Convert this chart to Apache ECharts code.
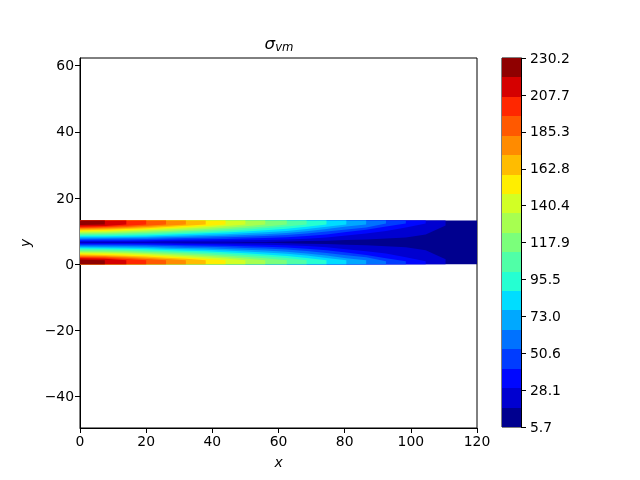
<!DOCTYPE html>
<html>
<head>
<meta charset="utf-8">
<style>
html, body { margin: 0; padding: 0; background: #fff; }
#chart { width: 640px; height: 480px; }
</style>
<script src="https://cdn.jsdelivr.net/npm/echarts@6/dist/echarts.min.js"></script>
</head>
<body>
<div id="chart"></div>
<script>
// x stations along the band where the contours were read
var xStations = [0, 7.5, 14, 20, 26, 32, 38, 44, 50, 56, 62.5, 68.5, 74.5, 80.5, 86.5, 92.5, 98.5, 104.5, 110.5];
var bandLength = 120;
var bandTop = 13.2;

// y of the contour where each level starts, upper half of the band (lower half is its mirror)
var contour01 = [6.6, 6.6, 6.6, 6.6, 6.6, 6.64, 6.63, 6.66, 6.69, 6.73, 6.85, 7.0, 7.1, 7.3, 7.46, 7.76, 8.06, 9.0, 11.7];
var contour02 = [6.85, 6.86, 6.85, 6.85, 6.97, 7.05, 7.07, 7.14, 7.22, 7.32, 7.49, 7.7, 8.05, 8.7, 9.3, 10.0, 11.1, 12.3];
var contour03 = [7.16, 7.18, 7.19, 7.22, 7.36, 7.47, 7.52, 7.63, 7.75, 7.9, 8.14, 8.5, 9.0, 9.7, 10.4, 11.4, 12.3];
var contour04 = [7.47, 7.5, 7.54, 7.59, 7.74, 7.88, 7.97, 8.11, 8.28, 8.49, 8.78, 9.25, 9.85, 10.5, 11.1, 12.3];
var contour05 = [7.78, 7.82, 7.88, 7.95, 8.13, 8.29, 8.42, 8.6, 8.81, 9.07, 9.42, 9.95, 10.6, 11.4, 12.0];
var contour06 = [8.1, 8.14, 8.22, 8.32, 8.52, 8.7, 8.86, 9.08, 9.34, 9.65, 10.06, 10.6, 11.3, 12.0];
var contour07 = [8.41, 8.46, 8.56, 8.69, 8.9, 9.11, 9.31, 9.57, 9.87, 10.24, 10.7, 11.3, 12.0];
var contour08 = [8.72, 8.78, 8.91, 9.05, 9.29, 9.52, 9.76, 10.05, 10.4, 10.82, 11.35, 12.0];
var contour09 = [9.03, 9.1, 9.25, 9.42, 9.67, 9.93, 10.2, 10.54, 10.93, 11.41, 11.99];
var contour10 = [9.34, 9.42, 9.59, 9.79, 10.06, 10.35, 10.65, 11.02, 11.46, 11.99];
var contour11 = [9.65, 9.74, 9.93, 10.15, 10.45, 10.76, 11.1, 11.5, 11.99];
var contour12 = [9.97, 10.06, 10.28, 10.52, 10.83, 11.17, 11.54, 11.99];
var contour13 = [10.28, 10.39, 10.62, 10.89, 11.22, 11.58, 11.99];
var contour14 = [10.59, 10.71, 10.96, 11.25, 11.6, 11.99];
var contour15 = [10.85, 10.98, 11.25, 11.6, 11.99];
var contour16 = [11.08, 11.25, 11.6, 11.99];
var contour17 = [11.4, 11.55, 11.99];
var contour18 = [11.83, 11.99];

// colorbar
var levelMin = 5.7;
var levelMax = 230.2;
var levelColors = ['#00008f', '#0000d0', '#0007ff', '#003cff', '#0072ff', '#00a8ff', '#00ddff', '#25ffd2', '#50ffa7', '#7bff7b',
	'#a7ff50', '#d2ff25', '#ffee00', '#ffbc00', '#ff8b00', '#ff5900', '#ff2700', '#d50000', '#8f0000'];
var colorbarTicks = [5.7, 28.1, 50.6, 73.0, 95.5, 117.9, 140.4, 162.8, 185.3, 207.7, 230.2];

var yTicks = [-40, -20, 0, 20, 40, 60];

var contours = [contour01, contour02, contour03, contour04, contour05, contour06, contour07, contour08, contour09,
	contour10, contour11, contour12, contour13, contour14, contour15, contour16, contour17, contour18];
var levelStep = (levelMax - levelMin) / levelColors.length;
var fontName = '"DejaVu Sans"';
// tick labels sit a pixel lower than the default middle alignment
var tickRich = { t: { fontFamily: fontName, fontSize: 13.9, color: '#000', padding: [2, 0, 0, 0] } };

// level 0 is the whole band, every other level is laid on top from both long edges
var renderLayer = function(params, api) {
	var level = api.value(0);
	if (level === 0) {
		return {
			type: 'polygon',
			shape: { points: [api.coord([0, 0]), api.coord([bandLength, 0]), api.coord([bandLength, bandTop]), api.coord([0, bandTop])] },
			style: { fill: levelColors[0] }
		};
	}
	var line = contours[level - 1];
	var upper = [api.coord([0, bandTop])];
	var lower = [api.coord([0, 0])];
	for (var i = 0; i < line.length; i++) {
		upper.push(api.coord([xStations[i], line[i]]));
		lower.push(api.coord([xStations[i], bandTop - line[i]]));
	}
	upper.push(api.coord([xStations[line.length - 1], bandTop]));
	lower.push(api.coord([xStations[line.length - 1], 0]));
	return {
		type: 'group',
		children: [
			{ type: 'polygon', shape: { points: upper }, style: { fill: levelColors[level] } },
			{ type: 'polygon', shape: { points: lower }, style: { fill: levelColors[level] } }
		]
	};
};

var renderBarCell = function(params, api) {
	var p0 = api.coord([0, api.value(1)]);
	var p1 = api.coord([1, api.value(2)]);
	var y0 = Math.round(p0[1]), y1 = Math.round(p1[1]);
	return {
		type: 'rect',
		shape: { x: p0[0], y: y1, width: p1[0] - p0[0], height: y0 - y1 },
		style: { fill: levelColors[api.value(0)] }
	};
};

var layers = [];
var barCells = [];
for (var i = 0; i < levelColors.length; i++) {
	layers.push([i]);
	barCells.push([i, levelMin + i * levelStep, levelMin + (i + 1) * levelStep]);
}

var tickStyle = { show: true, length: 5, lineStyle: { color: '#000', width: 1 } };
var lineStyle = { show: true, onZero: false, lineStyle: { color: '#000', width: 1 } };

var chart = echarts.init(document.getElementById('chart'), null, { renderer: 'canvas' });
chart.setOption({
	animation: false,
	backgroundColor: '#fff',
	title: {
		text: '{i|σ}{sub|vm}',
		left: 274,
		top: 30,
		textAlign: 'center',
		textStyle: {
			fontWeight: 'normal',
			rich: {
				i: { fontFamily: fontName, fontStyle: 'italic', fontWeight: 'normal', fontSize: 16.7, color: '#000' },
				sub: { fontFamily: fontName, fontStyle: 'italic', fontWeight: 'normal', fontSize: 11.7, color: '#000', padding: [7, 0, 0, 0] }
			}
		}
	},
	grid: [
		{ left: 80, top: 58, width: 397, height: 370, show: true, borderColor: '#000', borderWidth: 1, backgroundColor: 'transparent' },
		{ left: 502, top: 58, width: 19, height: 369, show: true, borderColor: '#000', borderWidth: 1, backgroundColor: 'transparent' }
	],
	xAxis: [{
		type: 'value',
		gridIndex: 0,
		min: 0,
		max: 120,
		interval: 20,
		splitLine: { show: false },
		axisLine: lineStyle,
		axisTick: tickStyle,
		axisLabel: { color: '#000', fontFamily: fontName, fontSize: 13.9, margin: 6, padding: [1, 0, 0, 0] },
		name: 'x',
		nameLocation: 'middle',
		nameGap: 28,
		nameTextStyle: { fontFamily: fontName, fontStyle: 'italic', fontSize: 13.9, color: '#000' }
	}, {
		type: 'value',
		gridIndex: 1,
		min: 0,
		max: 1,
		show: false
	}],
	yAxis: [{
		type: 'value',
		gridIndex: 0,
		min: -49.5,
		max: 62.3,
		splitLine: { show: false },
		axisLine: lineStyle,
		axisTick: { show: true, length: 5, lineStyle: { color: '#000', width: 1 }, customValues: yTicks },
		axisLabel: {
			margin: 6,
			customValues: yTicks,
			rich: tickRich,
			formatter: function(v) { return '{t|' + String(v).replace('-', '\u2212') + '}'; }
		},
		name: 'y',
		nameLocation: 'middle',
		nameGap: 47,
		nameRotate: 90,
		nameTextStyle: { fontFamily: fontName, fontStyle: 'italic', fontSize: 13.9, color: '#000' }
	}, {
		type: 'value',
		gridIndex: 1,
		position: 'right',
		min: levelMin,
		max: levelMax,
		splitLine: { show: false },
		axisLine: lineStyle,
		axisTick: { show: true, length: 5, lineStyle: { color: '#000', width: 1 }, customValues: colorbarTicks },
		axisLabel: {
			margin: 9,
			customValues: colorbarTicks,
			rich: tickRich,
			formatter: function(v) { return '{t|' + v.toFixed(1) + '}'; }
		}
	}],
	series: [{
		type: 'custom',
		xAxisIndex: 0,
		yAxisIndex: 0,
		renderItem: renderLayer,
		data: layers,
		progressive: 0,
		silent: true
	}, {
		type: 'custom',
		xAxisIndex: 1,
		yAxisIndex: 1,
		renderItem: renderBarCell,
		data: barCells,
		progressive: 0,
		silent: true
	}]
});
</script>
</body>
</html>
